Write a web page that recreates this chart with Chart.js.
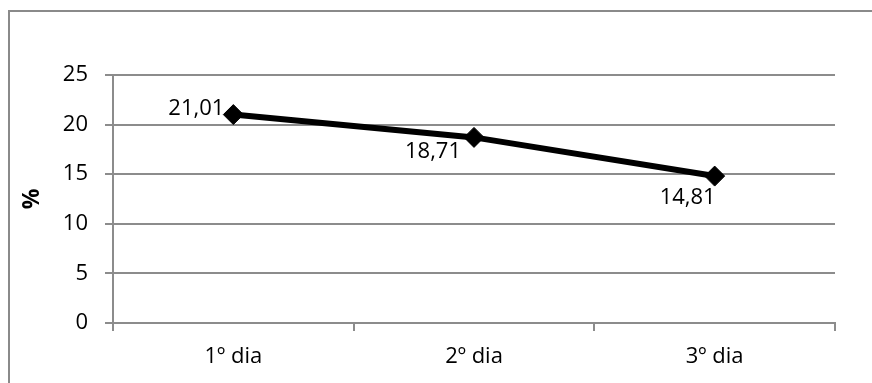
<!DOCTYPE html>
<html>
<head>
<meta charset="utf-8">
<script src="https://cdn.jsdelivr.net/npm/chart.js@4"></script>
<style>
  html, body { margin: 0; padding: 0; background: #fff; }
  #wrap { width: 872px; height: 383px; position: relative; }
</style>
</head>
<body>
<div id="wrap"><canvas id="c" width="872" height="383"></canvas></div>
<script>
// Daily percentage values
const categories = ['1º dia', '2º dia', '3º dia'];
const values = [21.01, 18.71, 14.81];
const yTicks = [0, 5, 10, 15, 20, 25];

const fmt = v => v.toFixed(2).replace('.', ',');

// Where each value label sits relative to its point
const labelPlacement = [
  { dx: -9,  dy: -6, align: 'right' },
  { dx: -13, dy: 14, align: 'right' },
  { dx: -27, dy: 22, align: 'center' }
];

const frame = {
  id: 'frame',
  beforeDraw(chart) {
    const ctx = chart.ctx;
    ctx.save();
    ctx.strokeStyle = '#8a8a8a';
    ctx.lineWidth = 2;
    ctx.beginPath();
    ctx.moveTo(9, chart.height);
    ctx.lineTo(9, 11);
    ctx.lineTo(chart.width, 11);
    ctx.stroke();
    ctx.restore();
  }
};

const valueLabels = {
  id: 'valueLabels',
  afterDatasetsDraw(chart) {
    const ctx = chart.ctx;
    const meta = chart.getDatasetMeta(0);
    ctx.save();
    ctx.font = "22px 'Open Sans', sans-serif";
    ctx.fillStyle = '#000';
    ctx.textBaseline = 'middle';
    meta.data.forEach((pt, i) => {
      const p = labelPlacement[i];
      ctx.textAlign = p.align;
      ctx.fillText(fmt(values[i]), pt.x + p.dx, pt.y + p.dy);
    });
    ctx.restore();
  }
};

Chart.defaults.font.family = "'Open Sans', sans-serif";
Chart.defaults.color = '#000';

new Chart(document.getElementById('c'), {
  type: 'line',
  data: {
    labels: categories,
    datasets: [{
      data: values,
      borderColor: '#000',
      backgroundColor: '#000',
      borderWidth: 6,
      pointStyle: 'rectRot',
      pointRadius: 10,
      pointBorderWidth: 1,
      pointBackgroundColor: '#000',
      pointBorderColor: '#000',
      tension: 0,
      clip: false
    }]
  },
  options: {
    responsive: false,
    animation: false,
    devicePixelRatio: 1,
    layout: { padding: { top: 75, right: 37, left: 0, bottom: 0 } },
    plugins: {
      legend: { display: false },
      tooltip: { enabled: false }
    },
    scales: {
      x: {
        type: 'category',
        offset: true,
        grid: {
          offset: true,
          drawOnChartArea: false,
          drawTicks: true,
          tickLength: 8,
          color: '#8c8c8c',
          lineWidth: 2
        },
        border: { display: true, color: '#8c8c8c', width: 2 },
        ticks: { font: { size: 22 }, color: '#000', padding: 13, maxRotation: 0 },
        afterFit(s) { s.height = 60; }
      },
      y: {
        min: 0,
        max: 25,
        afterBuildTicks(s) { s.ticks = yTicks.map(v => ({ value: v })); },
        grid: { color: '#8c8c8c', lineWidth: 2, tickLength: 8 },
        border: { display: true, color: '#8c8c8c', width: 2 },
        ticks: { font: { size: 22 }, color: '#000', padding: 17 },
        title: {
          display: true,
          text: '%',
          font: { size: 23, weight: 'bold' },
          color: '#000',
          padding: { top: 19 }
        },
        afterFit(s) { s.width = 113; }
      }
    }
  },
  plugins: [frame, valueLabels]
});
</script>
</body>
</html>
